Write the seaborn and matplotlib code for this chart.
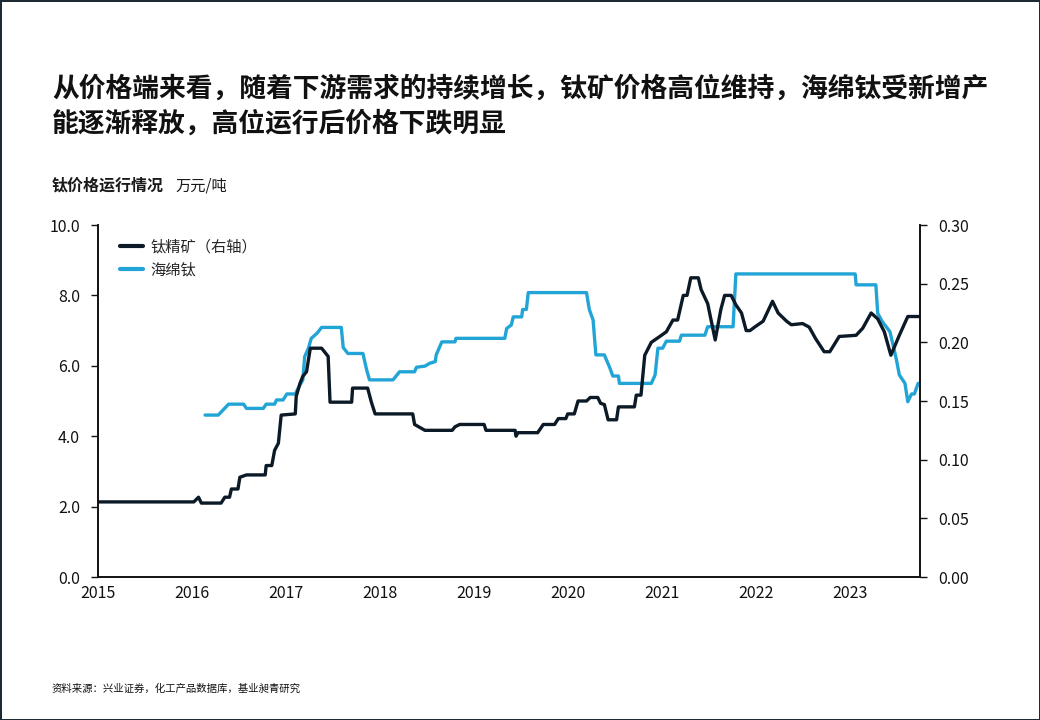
import numpy as np
import pandas as pd
import matplotlib.pyplot as plt
import seaborn as sns
from matplotlib.lines import Line2D

sns.set_style('white')
plt.rcParams['font.family'] = ['Noto Sans CJK SC', 'DejaVu Sans']

# --- datos ---
# 钛精矿 (eje derecho, 万元/吨)
anio_concentrado = [2015.00, 2016.02, 2016.07, 2016.10, 2016.31, 2016.35, 2016.40, 2016.42,
                    2016.49, 2016.51, 2016.58, 2016.78, 2016.79, 2016.85, 2016.88, 2016.92,
                    2016.95, 2017.10, 2017.11, 2017.15, 2017.18, 2017.22, 2017.26, 2017.38,
                    2017.43, 2017.45, 2017.47, 2017.70, 2017.71, 2017.87, 2017.91, 2017.95,
                    2018.35, 2018.37, 2018.48, 2018.77, 2018.80, 2018.85, 2019.11, 2019.13,
                    2019.44, 2019.45, 2019.47, 2019.68, 2019.74, 2019.86, 2019.90, 2019.98,
                    2020.00, 2020.07, 2020.11, 2020.20, 2020.24, 2020.32, 2020.35, 2020.39,
                    2020.43, 2020.52, 2020.54, 2020.71, 2020.73, 2020.78, 2020.82, 2020.89,
                    2020.98, 2021.05, 2021.12,
                    2021.17, 2021.23, 2021.27, 2021.31, 2021.39, 2021.42, 2021.49, 2021.57,
                    2021.63, 2021.67, 2021.74, 2021.79, 2021.85, 2021.90, 2021.94, 2021.99,
                    2022.08, 2022.18, 2022.24, 2022.33, 2022.38, 2022.50, 2022.57, 2022.64,
                    2022.73, 2022.79, 2022.89, 2023.07, 2023.14, 2023.23, 2023.30, 2023.37,
                    2023.44, 2023.53, 2023.62, 2023.74]
precio_concentrado = [0.064, 0.064, 0.068, 0.063, 0.063, 0.068, 0.068, 0.075,
                      0.075, 0.085, 0.087, 0.087, 0.095, 0.095, 0.108, 0.114,
                      0.138, 0.139, 0.154, 0.165, 0.171, 0.175, 0.195, 0.195,
                      0.190, 0.188, 0.149, 0.149, 0.161, 0.161, 0.149, 0.139,
                      0.139, 0.130, 0.125, 0.125, 0.128, 0.130, 0.130, 0.125,
                      0.125, 0.120, 0.123, 0.123, 0.130, 0.130, 0.135, 0.135,
                      0.139, 0.139, 0.150, 0.150, 0.153, 0.153, 0.148, 0.147,
                      0.134, 0.134, 0.145, 0.145, 0.155, 0.155, 0.189, 0.200,
                      0.205, 0.209, 0.219,
                      0.219, 0.240, 0.240, 0.255, 0.255, 0.245, 0.233, 0.202,
                      0.228, 0.240, 0.240, 0.232, 0.225, 0.210, 0.210, 0.213,
                      0.218, 0.235, 0.225, 0.218, 0.215, 0.216, 0.213, 0.203,
                      0.192, 0.192, 0.205, 0.206, 0.212, 0.225, 0.220, 0.209,
                      0.189, 0.206, 0.222, 0.222]

# 海绵钛 (eje izquierdo, 万元/吨)
anio_esponja = [2016.14, 2016.28, 2016.33, 2016.39, 2016.55, 2016.58, 2016.76, 2016.79,
                2016.88, 2016.90, 2016.97, 2017.01, 2017.10, 2017.13, 2017.18, 2017.20,
                2017.24, 2017.27, 2017.33, 2017.38, 2017.59, 2017.61, 2017.66, 2017.82,
                2017.86, 2017.89, 2018.14, 2018.21, 2018.37, 2018.39, 2018.48, 2018.53,
                2018.59, 2018.60, 2018.66, 2018.80, 2018.81, 2019.33, 2019.35, 2019.40,
                2019.42, 2019.51, 2019.52, 2019.56, 2019.58, 2020.20, 2020.23, 2020.27,
                2020.30, 2020.39, 2020.45, 2020.48, 2020.54, 2020.55, 2020.89, 2020.93,
                2020.96, 2021.01, 2021.05, 2021.19, 2021.21, 2021.46, 2021.49, 2021.76,
                2021.79, 2023.06, 2023.07, 2023.28, 2023.30, 2023.35, 2023.43, 2023.50,
                2023.53, 2023.59, 2023.62, 2023.66, 2023.69, 2023.73, 2023.76]
precio_esponja = [4.60, 4.60, 4.74, 4.91, 4.91, 4.79, 4.79, 4.91,
                  4.91, 5.03, 5.03, 5.20, 5.20, 5.36, 5.60, 6.26,
                  6.50, 6.78, 6.92, 7.09, 7.09, 6.52, 6.35, 6.35,
                  5.88, 5.60, 5.60, 5.83, 5.83, 5.96, 5.99, 6.07,
                  6.12, 6.31, 6.68, 6.68, 6.78, 6.78, 7.06, 7.16,
                  7.39, 7.39, 7.60, 7.60, 8.08, 8.08, 7.60, 7.30,
                  6.31, 6.31, 5.93, 5.71, 5.71, 5.50, 5.50, 5.74,
                  6.50, 6.50, 6.70, 6.70, 6.87, 6.87, 7.11, 7.11,
                  8.61, 8.61, 8.30, 8.30, 7.49, 7.25, 6.97, 6.16,
                  5.74, 5.50, 4.98, 5.20, 5.20, 5.50, 5.50]

anios_ticks = [2015, 2016, 2017, 2018, 2019, 2020, 2021, 2022, 2023]
ticks_izq = [0, 2, 4, 6, 8, 10]
ticks_der = [0, 0.05, 0.10, 0.15, 0.20, 0.25, 0.30]

color_negro = '#0b1a26'
color_azul = '#22a5d6'

df_concentrado = pd.DataFrame({'anio': anio_concentrado, 'precio': precio_concentrado})
df_esponja = pd.DataFrame({'anio': anio_esponja, 'precio': precio_esponja})

# --- figura ---
fig = plt.figure(figsize=(10.4, 7.2), dpi=100, linewidth=2, edgecolor='#1c2b33')
ax = fig.add_axes([98 / 1040, 1 - 577 / 720, (920 - 98) / 1040, (577 - 225) / 720])
ax2 = ax.twinx()

sns.lineplot(data=df_esponja, x='anio', y='precio', ax=ax, color=color_azul,
             linewidth=2.4, estimator=None, sort=False)
sns.lineplot(data=df_concentrado, x='anio', y='precio', ax=ax2, color=color_negro,
             linewidth=2.4, estimator=None, sort=False)

ax.set_xlim(2015, 2023.75)
ax.set_ylim(0, 10)
ax2.set_ylim(0, 0.30)
ax.set_xticks(anios_ticks)
ax.set_xticklabels([str(a) for a in anios_ticks])
ax.set_yticks(ticks_izq)
ax.set_yticklabels([f'{v:.1f}' for v in ticks_izq])
ax2.set_yticks(ticks_der)
ax2.set_yticklabels([f'{v:.2f}' for v in ticks_der])

for a in (ax, ax2):
    a.set_xlabel('')
    a.set_ylabel('')
    a.spines['top'].set_visible(False)
    for s in ('left', 'right', 'bottom'):
        a.spines[s].set_color('#111111')
        a.spines[s].set_linewidth(1.2)
    a.tick_params(axis='both', labelsize=11.5, colors='#111111', length=5, width=1)
ax.tick_params(axis='x', length=0, pad=6)
ax.tick_params(axis='y', left=True, pad=8)
ax2.tick_params(axis='y', right=True, pad=8)

handles = [Line2D([], [], color=color_negro, linewidth=3),
           Line2D([], [], color=color_azul, linewidth=3)]
ax.legend(handles, ['钛精矿（右轴）', '海绵钛'], loc='upper left', bbox_to_anchor=(0.01, 1.0),
          frameon=False, fontsize=11, handlelength=1.5, handletextpad=0.5, labelspacing=0.35)

fig.text(52 / 1040, 1 - 106 / 720,
         '从价格端来看，随着下游需求的持续增长，钛矿价格高位维持，海绵钛受新增产\n能逐渐释放，高位运行后价格下跌明显',
         fontsize=19.3, fontweight='bold', color='#111111', va='center', linespacing=1.3)
fig.text(52 / 1040, 1 - 186 / 720, '钛价格运行情况', fontsize=11.5, fontweight='bold',
         color='#1a1a1a', va='center')
fig.text(175 / 1040, 1 - 186 / 720, '万元/吨', fontsize=11, color='#1a1a1a', va='center')
fig.text(52 / 1040, 1 - 689 / 720, '资料来源：兴业证券，化工产品数据库，基业昶青研究',
         fontsize=7.5, color='#111111', va='center')

fig.savefig('out.png', dpi=100, edgecolor=fig.get_edgecolor())
